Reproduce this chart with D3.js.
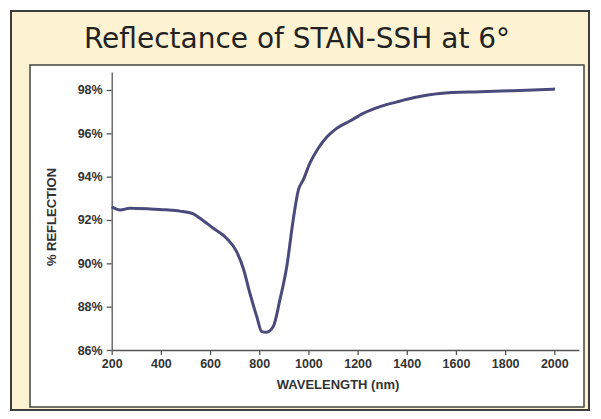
<!DOCTYPE html>
<html>
<head>
<meta charset="utf-8">
<script src="https://cdn.jsdelivr.net/npm/d3@7"></script>
<style>
  body { margin: 0; background: #fff; }
  svg { display: block; }
</style>
</head>
<body>
<svg id="canvas"></svg>
<script>
// wavelength (nm) and % reflection
const wavelength = [200, 234, 274, 356, 420, 478, 532, 559, 613, 668, 708, 735, 762, 790, 810, 830, 857, 884, 912, 938, 959, 979, 1006, 1040, 1074, 1115, 1169, 1223, 1291, 1360, 1427, 1535, 1698, 1833, 2003]
const reflection = [92.61, 92.46, 92.54, 92.51, 92.47, 92.41, 92.28, 92.08, 91.62, 91.15, 90.54, 89.77, 88.62, 87.54, 86.85, 86.82, 87.08, 88.31, 89.85, 92.0, 93.38, 93.85, 94.62, 95.31, 95.82, 96.23, 96.57, 96.92, 97.23, 97.45, 97.64, 97.84, 97.92, 97.97, 98.04]
const xTicks = [200, 400, 600, 800, 1000, 1200, 1400, 1600, 1800, 2000]
const yTicks = [86, 88, 90, 92, 94, 96, 98]

const title = 'Reflectance of STAN-SSH at 6°'
const xTitle = 'WAVELENGTH (nm)'
const yTitle = '% REFLECTION'

let width = 601,
height = 419

let canvas = d3.select('#canvas')
.attr('width', width)
.attr('height', height)

// cream frame
canvas.append('rect')
.attr('x', 11).attr('y', 11)
.attr('width', 578).attr('height', 399)
.attr('fill', '#fdf3d2')
.attr('stroke', '#3c3c3c')
.attr('stroke-width', 2)

canvas.append('text')
.attr('x', 297).attr('y', 48)
.attr('text-anchor', 'middle')
.attr('font-family', 'DejaVu Sans')
.attr('font-size', 28)
.attr('fill', '#222')
.text(title)

// white plot panel
canvas.append('rect')
.attr('x', 30).attr('y', 65)
.attr('width', 554).attr('height', 342)
.attr('fill', '#fff')
.attr('stroke', '#444')
.attr('stroke-width', 1.5)

let x = d3.scaleLinear().domain([200, 2100]).range([111.7, 578.9])
let y = d3.scaleLinear().domain([86, 98.83]).range([350, 72])

let xAxis = canvas.append('g')
.attr('transform', 'translate(0,350)')
.call(d3.axisBottom(x).tickValues(xTicks).tickSize(5).tickSizeOuter(0).tickPadding(4).tickFormat(d3.format('d')))

let yAxis = canvas.append('g')
.attr('transform', 'translate(111.7,0)')
.call(d3.axisLeft(y).tickValues(yTicks).tickSize(5).tickSizeOuter(0).tickPadding(4).tickFormat(d => d + '%'))

for (let g of [xAxis, yAxis]) {
    g.selectAll('path, line').attr('stroke', '#555').attr('stroke-width', 1.3)
    g.selectAll('text')
    .attr('font-family', 'Liberation Sans, Arial')
    .attr('font-weight', 'bold')
    .attr('font-size', 12.5)
    .attr('fill', '#333')
}

canvas.append('text')
.attr('x', 338).attr('y', 389)
.attr('text-anchor', 'middle')
.attr('font-family', 'Liberation Sans, Arial')
.attr('font-weight', 'bold')
.attr('font-size', 13)
.attr('fill', '#333')
.text(xTitle)

canvas.append('text')
.attr('transform', 'translate(56,217) rotate(-90)')
.attr('text-anchor', 'middle')
.attr('font-family', 'Liberation Sans, Arial')
.attr('font-weight', 'bold')
.attr('font-size', 13)
.attr('fill', '#333')
.text(yTitle)

let points = wavelength.map((w, i) => [w, reflection[i]])

let line = d3.line()
.x(d => x(d[0]))
.y(d => y(d[1]))
.curve(d3.curveMonotoneX)

canvas.append('path')
.datum(points)
.attr('d', line)
.attr('fill', 'none')
.attr('stroke', '#4b4a7c')
.attr('stroke-width', 3)
.attr('stroke-linejoin', 'round')
</script>
</body>
</html>
